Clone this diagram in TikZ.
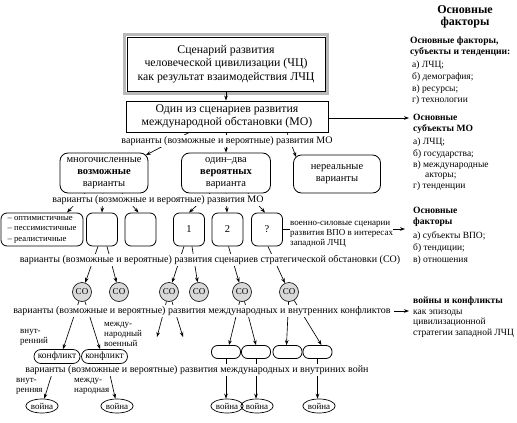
\documentclass[tikz,border=0pt]{standalone}
\usepackage{fontspec}
\setmainfont{Liberation Serif}
\usetikzlibrary{arrows.meta,shapes.geometric,calc}
\newcommand{\fsz}[2]{\fontsize{#1}{#2}\selectfont}
\begin{document}
\begin{tikzpicture}[x=1pt,y=-1pt,
  arr/.style={-{Stealth[length=5pt,width=3.6pt]},line width=0.65pt},
  lbl/.style={fill=white,inner sep=1pt,font=\fsz{10}{11}},
  mainbox/.style={draw,line width=0.8pt,align=center,font=\fsz{11.8}{13.5},inner sep=2pt},
  rbox/.style={draw,rounded corners=8pt,line width=0.8pt,align=center,font=\fsz{10.5}{12},inner sep=1pt},
  sbox/.style={draw,rounded corners=6pt,line width=0.8pt,minimum width=31pt,minimum height=33pt,inner sep=0pt,font=\fsz{10.5}{11}},
  co/.style={circle,draw,fill=gray!30,line width=0.6pt,minimum size=19pt,inner sep=0pt,font=\fsz{9}{9}},
  pill/.style={draw,rounded corners=6pt,line width=0.8pt,minimum width=29pt,minimum height=13pt,inner sep=0pt},
  kbox/.style={draw,rounded corners=7pt,line width=0.7pt,minimum width=46pt,minimum height=14pt,inner sep=1pt,font=\fsz{9.5}{9.5}},
  voina/.style={ellipse,draw,line width=0.7pt,inner sep=0.3pt,minimum height=14pt,minimum width=29pt,font=\fsz{9}{9}},
  side/.style={fill=white,inner sep=0pt,align=left,font=\fsz{9}{10}},
  rt/.style={anchor=base west,inner sep=0pt,font=\fsz{9.5}{10}},
  rh/.style={anchor=base west,inner sep=0pt,font=\bfseries\fsz{9.6}{10}},
]
\useasboundingbox (0,0) rectangle (517,423);

% main boxes
\node[mainbox,minimum width=198pt,minimum height=54pt] (A) at (226,64) {Сценарий развития\\человеческой цивилизации (ЧЦ)\\как результат взаимодействия ЛЧЦ};
\draw[gray!55,line width=3pt] ([shift={(-1.9pt,1.9pt)}]A.north west) rectangle ([shift={(1.9pt,-1.9pt)}]A.south east);
\node[mainbox,line width=1pt,minimum width=202pt,minimum height=31pt] (B) at (227,116.5) {Один из сценариев развития\\международной обстановки (МО)};

% second row
\node[rbox,minimum width=88pt,minimum height=40pt] (R1) at (104,173) {многочисленные\\\textbf{возможные}\\варианты};
\node[rbox,minimum width=89pt,minimum height=40pt] (R2) at (226,173) {один–два\\\textbf{вероятных}\\варианта};
\node[rbox,minimum width=87pt,minimum height=38pt] (R3) at (337,174) {нереальные\\варианты};

% third row
\node[sbox,minimum width=82pt,align=left,font=\fsz{8.7}{10.5}] (S0) at (42,229.5) {– оптимистичные\\– пессимистичные\\– реалистичные};
\node[sbox] (S1) at (102,229.5) {};
\node[sbox] (S2) at (140.5,229.5) {};
\node[sbox] (S3) at (189,229.5) {1};
\node[sbox] (S4) at (227.5,229.5) {2};
\node[sbox] (S5) at (267,229.5) {?};

% CO circles
\node[co] (C1) at (82,292) {СО};
\node[co] (C2) at (119,292) {СО};
\node[co] (C3) at (169,292) {СО};
\node[co] (C4) at (199,292) {СО};
\node[co] (C5) at (242,292) {СО};
\node[co] (C6) at (289,292) {СО};

% conflicts
\node[kbox] (K1) at (57,356.5) {конфликт};
\node[kbox] (K2) at (104.5,356.5) {конфликт};
\node[pill] (P1) at (226,352) {};
\node[pill] (P2) at (256,352) {};
\node[pill] (P3) at (287.5,352) {};
\node[pill] (P4) at (317.5,352) {};
\coordinate (F1) at (157,337);
\coordinate (F2) at (183,337);

% wars
\node[voina] (V1) at (42,406) {война};
\node[voina] (V2) at (117,406) {война};
\node[voina] (V3) at (227,406) {война};
\node[voina] (V4) at (257,406) {война};
\node[voina] (V5) at (319,406) {война};

% right column
\node[anchor=base,inner sep=0pt,font=\bfseries\fsz{12}{12}] (H0a) at (465,13) {Основные};
\node[anchor=base,inner sep=0pt,font=\bfseries\fsz{12}{12}] (H0b) at (465,25) {факторы};
\node[rh] (H1a) at (410,43) {Основные факторы,};
\node[rh] (H1b) at (410,54) {субъекты и тенденции:};
\node[rt] (T1a) at (412,67) {а) ЛЧЦ;};
\node[rt] (T1b) at (412,79) {б) демография;};
\node[rt] (T1c) at (412,91) {в) ресурсы;};
\node[rt] (T1d) at (412,102) {г) технологии};
\node[rh] (H2a) at (413,120) {Основные};
\node[rh] (H2b) at (413,131) {субъекты МО};
\node[rt] (T2a) at (413,144) {а) ЛЧЦ;};
\node[rt] (T2b) at (413,156) {б) государства;};
\node[rt] (T2c) at (413,167) {в) международные};
\node[rt] (T2d) at (425,177) {акторы;};
\node[rt] (T2e) at (413,188) {г) тенденции};
\node[rh] (H3a) at (413,213) {Основные};
\node[rh] (H3b) at (413,224) {факторы};
\node[rt] (T3a) at (413,238) {а) субъекты ВПО;};
\node[rt] (T3b) at (413,250) {б) тендиции;};
\node[rt] (T3c) at (413,262) {в) отношения};
\node[rh] (H4a) at (413,303) {войны и конфликты};
\node[rt] (T4a) at (413,314) {как эпизоды};
\node[rt] (T4b) at (413,324.5) {цивилизационной};
\node[rt] (T4c) at (413,335) {стратегии западной ЛЧЦ};
\coordinate (E1) at (409,118);
\coordinate (E3) at (405,229);
\coordinate (E4) at (409,311);

% arrows
\draw[arr] (A.south) -- (A.south |- B.north);
\draw[arr] (B.east |- E1) -- (E1);
\draw[arr] ([xshift=-38pt]B.south) -- ([shift={(-2.5pt,-2.5pt)}]R1.north east);
\draw[arr] (B.south -| R2.north) -- (R2.north);
\draw[arr] ([xshift=60pt]B.south) -- ([shift={(3pt,-2.5pt)}]R3.north west);

\draw[arr] ([xshift=-19pt]R1.south) -- ([xshift=25pt]S0.north);
\draw[arr] ([xshift=-1pt]R1.south) -- (S1.north);
\draw[arr] ([xshift=18pt]R1.south) -- ([xshift=-2pt]S2.north);
\draw[arr] ([xshift=-16pt]R2.south) -- (S3.north);
\draw[arr] (R2.south) -- ([xshift=-0.5pt]S4.north);
\draw[arr] ([xshift=22pt]R2.south) -- ([xshift=-2pt]S5.north);

\draw[arr] (S5.east |- E3) -- (E3);

\draw[arr] ([xshift=-4pt]S1.south) -- (C1);
\draw[arr] ([xshift=5pt]S1.south) -- (C2);
\draw[arr] ([xshift=-5pt]S3.south) -- (C3);
\draw[arr] ([xshift=3pt]S3.south) -- (C4);
\draw[arr] ([xshift=1pt]S4.south) -- (C5);
\draw[arr] ([xshift=1pt]S5.south) -- (C6);

\draw[arr] (C1) -- ([xshift=6pt]K1.north);
\draw[arr] (C1) -- ([xshift=-4.5pt]K2.north);
\draw[arr] (C3) -- (F1);
\draw[arr] (C3) -- (F2);
\draw[arr] (C5) -- ([xshift=3pt]P1.north);
\draw[arr] (C5) -- (P2.north);
\draw[arr] (C6) -- ([xshift=-1pt]P3.north);
\draw[arr] (C6) -- ([xshift=4pt]P4.north);

\draw[arr] ([xshift=-2pt]K1.south) -- (V1);
\draw[arr] ([xshift=3pt]K2.south) -- (V2);
\draw[arr] (P1.south) -- (P1.south |- V3.north);
\draw[arr] (P2.south) -- (P2.south |- V4.north);
\draw[arr] (P4.south) -- (P4.south |- V5.north);

% labels over lines
\node[lbl] (L1) at (227,141) {варианты (возможные и вероятные) развития МО};
\node[lbl] (L2) at (158,200) {варианты (возможные и вероятные) развития МО};
\node[lbl] (L3) at (210,260) {варианты (возможные и вероятные) развития сценариев стратегической обстановки (СО)};
\node[lbl] (L4) at (202,311) {варианты (возможные и вероятные) развития международных и внутренних конфликтов};
\node[lbl] (L5) at (197,370) {варианты (возможные и вероятные) развития международных и внутриних войн};
\draw[arr] ([xshift=2pt]L4.east |- E4) -- (E4);

\node[side,anchor=west] (W) at (290,234) {военно-силовые сценарии\\развития ВПО в интересах\\западной ЛЧЦ};
\node[side,anchor=west] (N1) at (20,337) {внут-\\ренний};
\node[side,anchor=west] (N2) at (104,334) {между-\\народный\\военный};
\node[side,anchor=west] (N3) at (16,386) {внут-\\ренняя};
\node[side,anchor=west] (N4) at (74,386) {между-\\народная};
\end{tikzpicture}
\end{document}
